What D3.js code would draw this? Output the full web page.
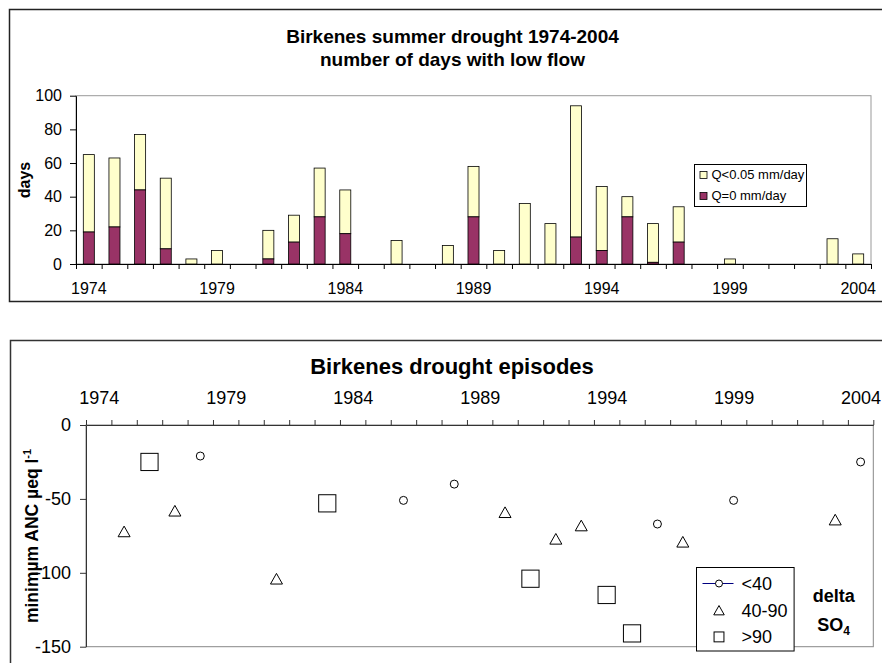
<!DOCTYPE html>
<html>
<head>
<meta charset="utf-8">
<script src="https://cdn.jsdelivr.net/npm/d3@7"></script>
<style>
  body { margin: 0; background: #fff; }
  svg { display: block; font-family: "Liberation Sans", Arial, sans-serif; }
</style>
</head>
<body>
<svg id="chart" width="882" height="663"></svg>
<script>
// categories (years on both charts)
const years = [1974, 1975, 1976, 1977, 1978, 1979, 1980, 1981, 1982, 1983, 1984,
  1985, 1986, 1987, 1988, 1989, 1990, 1991, 1992, 1993, 1994, 1995, 1996,
  1997, 1998, 1999, 2000, 2001, 2002, 2003, 2004];
const yearLabels = [1974, 1979, 1984, 1989, 1994, 1999, 2004];

// top chart: days with Q<0.05 mm/day (whole bar) and Q=0 mm/day (purple part)
const lowFlowDays = [65, 63, 77, 51, 3, 8, 0, 20, 29, 57, 44,
  0, 14, 0, 11, 58, 8, 36, 24, 94, 46, 40, 24,
  34, 0, 3, 0, 0, 0, 15, 6];
const zeroFlowDays = [19, 22, 44, 9, 0, 0, 0, 3, 13, 28, 18,
  0, 0, 0, 0, 28, 0, 0, 0, 16, 8, 28, 1,
  13, 0, 0, 0, 0, 0, 0, 0];
const daysTicks = [0, 20, 40, 60, 80, 100];

// bottom chart: drought episodes, minimum ANC and delta SO4 class
const episodeYears = [1975, 1976, 1977, 1978, 1981, 1983, 1986, 1988, 1990, 1991,
  1992, 1993, 1994, 1995, 1996, 1997, 1999, 2003, 2004];
const minANC = [-72, -25, -58, -21, -104, -53, -51, -40, -59, -104,
  -77, -68, -115, -141, -67, -79, -51, -64, -25];
const deltaSO4 = ["40-90", ">90", "40-90", "<40", "40-90", ">90", "<40", "<40", "40-90", ">90",
  "40-90", "40-90", ">90", ">90", "<40", "40-90", "<40", "40-90", "<40"];
const ancTicks = [0, -50, -100, -150];
const so4Classes = ["<40", "40-90", ">90"];

const YELLOW = "#ffffcc";
const PURPLE = "#993366";

const svg = d3.select("#chart");

//cornici dei due grafici
svg.append("rect").attr("x", 9.5).attr("y", 9.5).attr("width", 900).attr("height", 292)
  .attr("fill", "none").attr("stroke", "#222").attr("stroke-width", 1.5);
svg.append("rect").attr("x", 10.5).attr("y", 340.5).attr("width", 900).attr("height", 400)
  .attr("fill", "none").attr("stroke", "#333").attr("stroke-width", 1.5);

// ---------- top chart ----------
const topArea = { left: 76, right: 871, top: 95.7, bottom: 264 };

svg.append("text").attr("x", 452.5).attr("y", 43).attr("text-anchor", "middle")
  .attr("font-size", 19).attr("font-weight", "bold").text("Birkenes summer drought 1974-2004");
svg.append("text").attr("x", 452.5).attr("y", 66).attr("text-anchor", "middle")
  .attr("font-size", 19).attr("font-weight", "bold").text("number of days with low flow");

const xBand = d3.scaleBand().domain(years).range([topArea.left, topArea.right])
  .paddingInner(0.57).paddingOuter(0.285);
const xEdge = d3.scaleLinear().domain([1973.5, 2004.5]).range([topArea.left, topArea.right]);
const yDays = d3.scaleLinear().domain([0, 100]).range([topArea.bottom, topArea.top]);

svg.append("rect")
  .attr("x", topArea.left).attr("y", topArea.top)
  .attr("width", topArea.right - topArea.left).attr("height", topArea.bottom - topArea.top)
  .attr("fill", "none").attr("stroke", "#999");

const barData = years.map((y, i) => ({ year: y, low: lowFlowDays[i], zero: zeroFlowDays[i] }));

svg.append("g").selectAll("rect.low")
  .data(barData.filter(d => d.low > d.zero))
  .join("rect")
  .attr("class", "low")
  .attr("x", d => xBand(d.year))
  .attr("width", xBand.bandwidth())
  .attr("y", d => yDays(d.low))
  .attr("height", d => yDays(d.zero) - yDays(d.low))
  .attr("fill", YELLOW).attr("stroke", "#000").attr("stroke-width", 0.8);

svg.append("g").selectAll("rect.zero")
  .data(barData.filter(d => d.zero > 0))
  .join("rect")
  .attr("class", "zero")
  .attr("x", d => xBand(d.year))
  .attr("width", xBand.bandwidth())
  .attr("y", d => yDays(d.zero))
  .attr("height", d => yDays(0) - yDays(d.zero))
  .attr("fill", PURPLE).attr("stroke", "#000").attr("stroke-width", 0.8);

// y axis
const gyTop = svg.append("g").attr("transform", `translate(${topArea.left},0)`)
  .call(d3.axisLeft(yDays).tickValues(daysTicks).tickSize(6).tickSizeOuter(0).tickPadding(8));
gyTop.selectAll("text").attr("font-size", 16).attr("fill", "#000");

// x axis: tick marks at category edges, labels every 5 years
const gxTop = svg.append("g").attr("transform", `translate(0,${topArea.bottom})`)
  .call(d3.axisBottom(xEdge).tickValues(d3.range(1973.5, 2005, 1)).tickSize(5).tickFormat("").tickSizeOuter(0));
const gxTopLab = svg.append("g").attr("transform", `translate(0,${topArea.bottom})`)
  .call(d3.axisBottom(xBand).tickValues(yearLabels).tickSize(0).tickPadding(18.6));
gxTopLab.select(".domain").remove();
gxTopLab.selectAll("text").attr("font-size", 16).attr("fill", "#000");
[gyTop, gxTop].forEach(g => g.selectAll("path, line").attr("stroke", "#000"));
[gyTop, gxTopLab].forEach(g => g.attr("font-family", null));

svg.append("text").attr("transform", "translate(30,180) rotate(-90)")
  .attr("text-anchor", "middle").attr("font-size", 16).attr("font-weight", "bold").text("days");

// legend top
const legTop = svg.append("g").attr("transform", "translate(694.5,164.5)");
legTop.append("rect").attr("width", 112).attr("height", 42).attr("fill", "#fff").attr("stroke", "#000");
[["Q<0.05 mm/day", YELLOW], ["Q=0 mm/day", PURPLE]].forEach(([label, col], i) => {
  legTop.append("rect").attr("x", 5.5).attr("y", 7 + i * 21).attr("width", 7).attr("height", 7)
    .attr("fill", col).attr("stroke", "#000").attr("stroke-width", 0.8);
  legTop.append("text").attr("x", 17).attr("y", 14 + i * 21)
    .attr("font-size", 13).text(label);
});

// ---------- bottom chart ----------
const botArea = { left: 86, right: 873.3, top: 425, bottom: 646.7 };

svg.append("text").attr("x", 452).attr("y", 374).attr("text-anchor", "middle")
  .attr("font-size", 22).attr("font-weight", "bold").text("Birkenes drought episodes");

const xYear = d3.scaleLinear().domain([1973.5, 2004.5]).range([botArea.left, botArea.right]);
const yANC = d3.scaleLinear().domain([-150, 0]).range([botArea.bottom, botArea.top]);

svg.append("rect")
  .attr("x", botArea.left).attr("y", botArea.top)
  .attr("width", botArea.right - botArea.left).attr("height", botArea.bottom - botArea.top)
  .attr("fill", "none").attr("stroke", "#888");

const gyBot = svg.append("g").attr("transform", `translate(${botArea.left},0)`)
  .call(d3.axisLeft(yANC).tickValues(ancTicks).tickSize(6).tickSizeOuter(0).tickPadding(9)
    .tickFormat(d => String(d)));
gyBot.selectAll("text").attr("font-size", 18).attr("fill", "#000");

const gxBot = svg.append("g").attr("transform", `translate(0,${botArea.top})`)
  .call(d3.axisTop(xYear).tickValues(d3.range(1973.5, 2005, 1)).tickSize(5).tickFormat("").tickSizeOuter(0));
const gxBotLab = svg.append("g").attr("transform", `translate(0,${botArea.top})`)
  .call(d3.axisTop(xYear).tickValues(yearLabels).tickSize(0).tickPadding(20.7).tickFormat(d3.format("d")));
gxBotLab.select(".domain").remove();
gxBotLab.selectAll("text").attr("font-size", 18).attr("fill", "#000");
[gyBot, gxBot].forEach(g => g.selectAll("path, line").attr("stroke", "#333"));
[gyBot, gxBotLab].forEach(g => g.attr("font-family", null));

const yLab = svg.append("text").attr("transform", "translate(37.5,536) rotate(-90)")
  .attr("text-anchor", "middle").attr("font-size", 17.5).attr("font-weight", "bold");
yLab.append("tspan").text("minimµm ANC µeq l");
yLab.append("tspan").attr("dy", "-0.55em").attr("font-size", 11).text("-1");

// markers
function drawMarker(g, cls, size) {
  if (cls === "<40") {
    g.append("circle").attr("r", size / 2);
  } else if (cls === "40-90") {
    const w = size * 1.5, h = size * 1.33;
    g.append("path").attr("d", `M0,${-h / 2}L${w / 2},${h / 2}L${-w / 2},${h / 2}Z`);
  } else {
    const s = size * 2.15;
    g.append("rect").attr("x", -s / 2).attr("y", -s / 2).attr("width", s).attr("height", s);
  }
}

const points = episodeYears.map((y, i) => ({ year: y, anc: minANC[i], cls: deltaSO4[i] }));
const pts = svg.append("g").selectAll("g.pt").data(points).join("g")
  .attr("class", "pt")
  .attr("transform", d => `translate(${xYear(d.year)},${yANC(d.anc)})`)
  .attr("fill", "#fff").attr("stroke", "#000").attr("stroke-width", 1);
pts.each(function (d) { drawMarker(d3.select(this), d.cls, 8); });

// legend bottom
const legBot = svg.append("g").attr("transform", "translate(696.5,567.5)");
legBot.append("rect").attr("width", 97.6).attr("height", 83.5).attr("fill", "#fff").attr("stroke", "#000");
so4Classes.forEach((c, i) => {
  const cy = 16 + i * 26.7;
  if (i === 0) {
    legBot.append("line").attr("x1", 6).attr("x2", 37).attr("y1", cy).attr("y2", cy)
      .attr("stroke", "#000080").attr("stroke-width", 1);
  }
  const m = legBot.append("g").attr("transform", `translate(22.5,${cy})`)
    .attr("fill", "#fff").attr("stroke", "#000").attr("stroke-width", 1);
  drawMarker(m, c, i === 2 ? 4.6 : 7);
  legBot.append("text").attr("x", 45).attr("y", cy + 6.5).attr("font-size", 18).text(c);
});

svg.append("text").attr("x", 833.7).attr("y", 602).attr("text-anchor", "middle")
  .attr("font-size", 18).attr("font-weight", "bold").text("delta");
const so4 = svg.append("text").attr("x", 833.7).attr("y", 631).attr("text-anchor", "middle")
  .attr("font-size", 18).attr("font-weight", "bold");
so4.append("tspan").text("SO");
so4.append("tspan").attr("dy", "0.3em").attr("font-size", 12).text("4");
</script>
</body>
</html>
